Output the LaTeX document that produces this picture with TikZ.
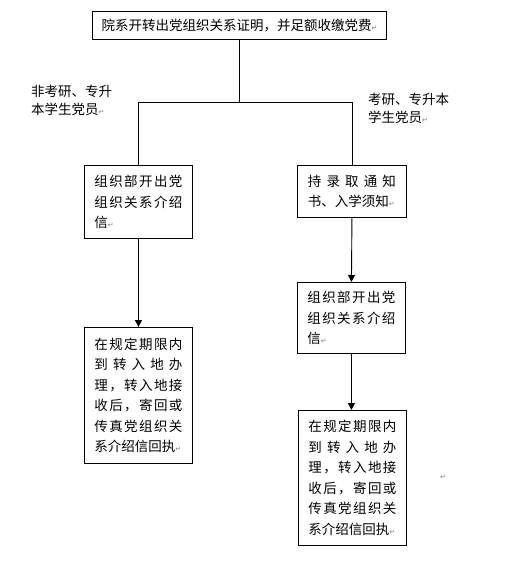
\documentclass[tikz,border=0pt]{standalone}
\usepackage{fontspec}
\newfontfamily\cjk{Noto Sans CJK SC}
\newfontfamily\dvsans{DejaVu Sans}
\usetikzlibrary{arrows.meta}
\newcommand\parmark{{\dvsans\fontsize{7}{7}\selectfont\textcolor{gray}{↵}}}
\def\spreadaux#1#2{#1\ifx\relax#2\else\hfil\expandafter\spreadaux\expandafter#2\fi}
\newcommand\sline[1]{\makebox[88pt][s]{\spreadaux#1\relax}}
\tikzset{
  box/.style={draw, line width=0.9pt, inner xsep=10pt, inner ysep=2pt, text width=88pt,
    align=left, anchor=north west, font=\cjk\fontsize{13.5}{20.5}\selectfont},
  lbl/.style={inner sep=0pt, anchor=north west, align=left, font=\cjk\fontsize{13.5}{18}\selectfont},
  conn/.style={line width=0.9pt},
  arr/.style={line width=0.9pt, -{Triangle[length=7pt,width=7pt]}}
}
\begin{document}
\begin{tikzpicture}[x=1pt,y=-1pt]
\useasboundingbox (0,0) rectangle (525,573);
\node[draw, line width=0.9pt, anchor=north west, minimum width=294pt, minimum height=28pt,
  inner sep=0pt, font=\cjk\fontsize{13.5}{16}\selectfont] (t) at (92,11)
  {院系开转出党组织关系证明，并足额收缴党费\parmark};
\node[box, minimum height=73pt] (l1) at (84,165)
  {\sline{组织部开出党}\\\sline{组织关系介绍}\\信\parmark};
\node[box, minimum height=136pt] (l2) at (84,327)
  {\sline{在规定期限内}\\\sline{到转入地办}\\\sline{理，转入地接}\\\sline{收后，寄回或}\\\sline{传真党组织关}\\系介绍信回执\parmark};
\node[box, minimum height=52pt, inner xsep=10.5pt] (r1) at (297,165)
  {\sline{持录取通知}\\书、入学须知\parmark};
\node[box, minimum height=71pt] (r2) at (297,282)
  {\sline{组织部开出党}\\\sline{组织关系介绍}\\信\parmark};
\node[box, minimum height=135pt] (r3) at (298,410)
  {\sline{在规定期限内}\\\sline{到转入地办}\\\sline{理，转入地接}\\\sline{收后，寄回或}\\\sline{传真党组织关}\\系介绍信回执\parmark};
\node[lbl] (la) at (31,85) {非考研、专升\\本学生党员\parmark};
\node[lbl] (lb) at (368,93) {考研、专升本\\学生党员\parmark};
\node[inner sep=0pt] (pm) at (443,477) {\parmark};
\coordinate (jL) at (l1.north |- 0,102);
\coordinate (jR) at (r1.north |- 0,102);
\draw[conn] (t.south) -- (t.south |- jL);
\draw[conn] (jL) -- (jR);
\draw[conn] (jL) -- (l1.north);
\draw[conn] (jR) -- (r1.north);
\draw[arr] (l1.south) -- (l2.north);
\draw[arr] (r1.south) -- (r2.north);
\draw[arr] (r2.south) -- (r2.south |- r3.north);
\end{tikzpicture}
\end{document}
